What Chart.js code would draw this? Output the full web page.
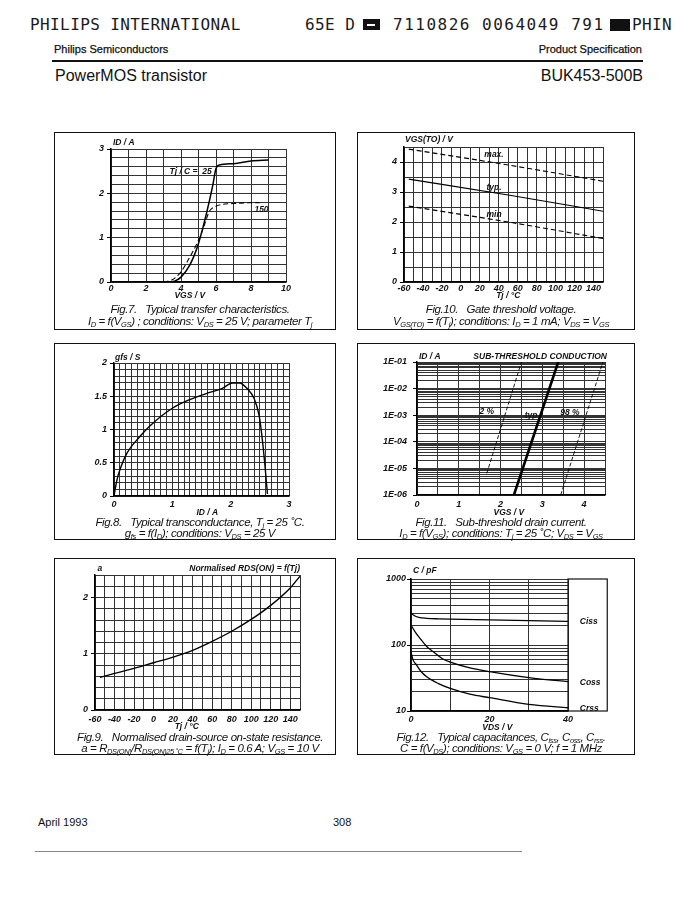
<!DOCTYPE html>
<html>
<head>
<meta charset="utf-8">
<script src="https://cdn.jsdelivr.net/npm/chart.js@4.4.1/dist/chart.umd.min.js"></script>
<style>
body { margin: 0; width: 682px; height: 906px; background: #fff; position: relative; overflow: hidden;
       font-family: "Liberation Sans", Arial, sans-serif; color: #111; }
.t { position: absolute; white-space: nowrap; line-height: 1; }
.mono { font-family: "DejaVu Sans Mono", monospace; font-size: 16px; letter-spacing: 0.4px; color: #1a1a1a; }
.blk { position: absolute; background: #111; }
.panel { position: absolute; }
.panel .frame { position: absolute; left: 0; top: 0; right: 0; bottom: 0; border: 1.5px solid #111; }
.panel canvas { position: absolute; left: 0; top: 0; }
.cap { position: absolute; left: 5px; width: 100%; text-align: center; font-style: italic; font-size: 11.5px;
       line-height: 1; letter-spacing: -0.4px; white-space: nowrap; color: #111; }
.cap sub { font-size: 7.5px; vertical-align: -2px; line-height: 0; }
.bold-ish { -webkit-text-stroke: 0.25px #111; }
</style>
</head>
<body>

<div class="t mono" style="left:30px;top:17px">PHILIPS INTERNATIONAL</div>
<div class="t mono" style="left:305px;top:17px">65E D</div>
<div class="blk" style="left:363px;top:19px;width:17px;height:11px"></div>
<div class="blk" style="left:367px;top:24px;width:8px;height:1.5px;background:#fff"></div>
<div class="t mono" style="left:393px;top:17px;letter-spacing:1.5px">7110826 0064049 791</div>
<div class="blk" style="left:610px;top:19px;width:20px;height:12px"></div>
<div class="t mono" style="left:632px;top:17px">PHIN</div>

<div class="t bold-ish" style="left:54px;top:44px;font-size:11px">Philips Semiconductors</div>
<div class="t bold-ish" style="right:40px;top:44px;font-size:11px">Product Specification</div>
<div class="blk" style="left:52px;top:60px;width:591px;height:1.5px"></div>
<div class="t" style="left:55px;top:68px;font-size:16px">PowerMOS transistor</div>
<div class="t" style="right:39px;top:68px;font-size:16px">BUK453-500B</div>

<div class="panel" id="p7" style="left:54px;top:132px;width:282px;height:198px">
  <div class="frame"></div><canvas id="fig7"></canvas>
  <div class="cap" style="top:172px">Fig.7.&nbsp;&nbsp;&nbsp;Typical transfer characteristics.</div>
  <div class="cap" style="top:184px">I<sub>D</sub> = f(V<sub>GS</sub>) ; conditions: V<sub>DS</sub> = 25 V; parameter T<sub>j</sub></div>
</div>
<div class="panel" id="p10" style="left:357px;top:132px;width:278px;height:198px">
  <div class="frame"></div><canvas id="fig10"></canvas>
  <div class="cap" style="top:172px">Fig.10.&nbsp;&nbsp;&nbsp;Gate threshold voltage.</div>
  <div class="cap" style="top:184px">V<sub>GS(TO)</sub> = f(T<sub>j</sub>); conditions: I<sub>D</sub> = 1 mA; V<sub>DS</sub> = V<sub>GS</sub></div>
</div>
<div class="panel" id="p8" style="left:54px;top:343px;width:282px;height:197px">
  <div class="frame"></div><canvas id="fig8"></canvas>
  <div class="cap" style="top:174px">Fig.8.&nbsp;&nbsp;&nbsp;Typical transconductance, T<sub>j</sub> = 25 ˚C.</div>
  <div class="cap" style="top:185px">g<sub>fs</sub> = f(I<sub>D</sub>); conditions: V<sub>DS</sub> = 25 V</div>
</div>
<div class="panel" id="p11" style="left:357px;top:343px;width:278px;height:197px">
  <div class="frame"></div><canvas id="fig11"></canvas>
  <div class="cap" style="top:174px">Fig.11.&nbsp;&nbsp;&nbsp;Sub-threshold drain current.</div>
  <div class="cap" style="top:185px">I<sub>D</sub> = f(V<sub>GS</sub>); conditions: T<sub>j</sub> = 25 ˚C; V<sub>DS</sub> = V<sub>GS</sub></div>
</div>
<div class="panel" id="p9" style="left:54px;top:558px;width:282px;height:197px">
  <div class="frame"></div><canvas id="fig9"></canvas>
  <div class="cap" style="top:174px">Fig.9.&nbsp;&nbsp;&nbsp;Normalised drain-source on-state resistance.</div>
  <div class="cap" style="top:185px">a = R<sub>DS(ON)</sub>/R<sub>DS(ON)25 ˚C</sub> = f(T<sub>j</sub>); I<sub>D</sub> = 0.6 A; V<sub>GS</sub> = 10 V</div>
</div>
<div class="panel" id="p12" style="left:357px;top:558px;width:278px;height:197px">
  <div class="frame"></div><canvas id="fig12"></canvas>
  <div class="cap" style="top:174px">Fig.12.&nbsp;&nbsp;&nbsp;Typical capacitances, C<sub>iss</sub>, C<sub>oss</sub>, C<sub>rss</sub>.</div>
  <div class="cap" style="top:185px">C = f(V<sub>DS</sub>); conditions: V<sub>GS</sub> = 0 V; f = 1 MHz</div>
</div>

<div class="t" style="left:38px;top:817px;font-size:11px">April 1993</div>
<div class="t" style="left:333px;top:817px;font-size:11px">308</div>
<div class="blk" style="left:35px;top:851px;width:487px;height:1px;background:#888"></div>

<script>
// Fig.7 - transfer characteristics, ID (A) vs VGS (V)
const fig7Vgs25 = [3.4, 3.7, 4.0, 4.5, 5.0, 5.5, 5.8, 6.0, 6.2, 7.0, 8.0, 9.0];
const fig7Id25 = [0, 0.03, 0.11, 0.38, 0.87, 1.62, 2.15, 2.56, 2.64, 2.67, 2.73, 2.75];
const fig7Vgs150 = [3.0, 3.5, 4.0, 4.5, 5.0, 5.3, 5.6, 5.8, 6.0, 6.5, 7.0, 8.0, 8.5];
const fig7Id150 = [0, 0.05, 0.23, 0.56, 0.94, 1.24, 1.58, 1.67, 1.71, 1.76, 1.77, 1.79, 1.79];
const fig7XLabels = [0, 2, 4, 6, 8, 10];
const fig7YLabels = [0, 1, 2, 3];

// Fig.10 - gate threshold voltage vs Tj
const fig10Tj = [-55, 50, 150];
const fig10Max = [4.43, 3.90, 3.36];
const fig10Typ = [3.43, 2.90, 2.36];
const fig10Min = [2.53, 2.00, 1.45];
const fig10XLabels = [-60, -40, -20, 0, 20, 40, 60, 80, 100, 120, 140];
const fig10YLabels = [0, 1, 2, 3, 4];

// Fig.8 - transconductance vs ID
const fig8Id = [0, 0.05, 0.1, 0.22, 0.44, 0.61, 1.0, 1.3, 1.58, 1.86, 2.03, 2.15, 2.29, 2.4, 2.49, 2.55, 2.6, 2.63];
const fig8Gfs = [0, 0.24, 0.39, 0.64, 0.89, 1.05, 1.32, 1.45, 1.54, 1.62, 1.70, 1.70, 1.61, 1.47, 1.20, 0.79, 0.34, 0.03];
const fig8XLabels = [0, 1, 2, 3];
const fig8YLabels = [0, 0.5, 1, 1.5, 2];

// Fig.11 - sub-threshold drain current (log)
const fig11Vgs2 = [1.67, 2.5];
const fig11Id2 = [6.5e-6, 1e-1];
const fig11VgsTyp = [2.32, 3.38];
const fig11IdTyp = [1e-6, 1e-1];
const fig11Vgs98 = [3.44, 4.45];
const fig11Id98 = [1e-6, 1e-1];
const fig11XLabels = [0, 1, 2, 3, 4];
const fig11YLabels = [1e-6, 1e-5, 1e-4, 1e-3, 1e-2, 1e-1];
const fig11YTexts = ['1E-06', '1E-05', '1E-04', '1E-03', '1E-02', '1E-01'];

// Fig.9 - normalised RDS(ON) vs Tj
const fig9Tj = [-55, -40, -20, 0, 20, 40, 60, 80, 100, 120, 140, 150];
const fig9A = [0.58, 0.65, 0.74, 0.84, 0.94, 1.06, 1.22, 1.40, 1.61, 1.86, 2.17, 2.38];
const fig9XLabels = [-60, -40, -20, 0, 20, 40, 60, 80, 100, 120, 140];
const fig9YLabels = [0, 1, 2];

// Fig.12 - capacitances vs VDS (log)
const fig12VdsCiss = [0, 1, 2, 4, 7, 10, 20, 30, 40, 41.7];
const fig12Ciss = [302, 275, 262, 254, 249, 246, 240, 234, 228, 226];
const fig12VdsCoss = [0, 1, 2.3, 4, 5.7, 8, 10, 15, 20, 30, 40, 41.7];
const fig12Coss = [201, 160, 126, 95, 79, 62, 55, 45, 39.4, 32, 27.8, 27.2];
const fig12VdsCrss = [0, 0.5, 1.4, 2.5, 4, 7, 10, 15, 20, 30, 40, 41.7];
const fig12Crss = [79, 60, 50, 40, 33, 26, 22, 18, 15.9, 12.6, 11.2, 11.0];
const fig12XLabels = [0, 20, 40];
const fig12YLabels = [10, 100, 1000];

const Y_W = 34, X_H = 14;
const tickFont = { family: 'Liberation Sans', size: 9, style: 'italic', weight: 'bold' };
const noteFont = 'italic bold 8.5px "Liberation Sans"';

function same(a, b) {
    return Math.abs(a - b) <= 1e-6 * Math.max(Math.abs(a), Math.abs(b)) || Math.abs(a - b) < 1e-12;
}

function labelsAt(values, texts) {
    return function (v) {
        const i = values.findIndex(l => same(l, v));
        if (i < 0) return '';
        return texts ? texts[i] : String(values[i]);
    };
}

function logTicks(min, max) {
    const out = [];
    for (let e = Math.floor(Math.log10(min)); e <= Math.round(Math.log10(max)); e++) {
        for (let m = 1; m <= 9; m++) {
            const v = m * Math.pow(10, e);
            if (v >= min * 0.999 && v <= max * 1.001) out.push({ value: v });
        }
    }
    return out;
}

function axis(isY, o) {
    const a = {
        type: o.type || 'linear',
        min: o.min, max: o.max,
        afterFit: s => { if (isY) s.width = Y_W; else s.height = X_H; },
        border: { display: true, color: '#000', width: 1.5 },
        grid: {
            color: '#333', lineWidth: 1,
            drawTicks: isY, tickLength: 4,
            tickColor: c => (c.tick && c.tick.label !== '') ? '#000' : 'rgba(0,0,0,0)'
        },
        ticks: {
            autoSkip: false, maxRotation: 0, maxTicksLimit: 200,
            font: tickFont, color: '#111',
            padding: o.pad,
            callback: labelsAt(o.labels, o.texts)
        }
    };
    if (o.step) a.ticks.stepSize = o.step;
    if (a.type === 'logarithmic') a.afterBuildTicks = s => { s.ticks = logTicks(o.min, o.max); };
    return a;
}

function series(xs, ys, style) {
    return Object.assign({
        data: xs.map((x, i) => ({ x: x, y: ys[i] })),
        borderColor: '#000', borderWidth: 1.3, pointRadius: 0,
        fill: false, cubicInterpolationMode: 'monotone'
    }, style || {});
}

function notesPlugin(notes, extra) {
    return {
        id: 'notes',
        afterDraw(chart) {
            const ctx = chart.ctx, xs = chart.scales.x, ys = chart.scales.y;
            ctx.save();
            ctx.fillStyle = '#111';
            ctx.textBaseline = 'middle';
            notes.forEach(n => {
                ctx.font = n.font || noteFont;
                ctx.textAlign = n.align || 'center';
                ctx.fillText(n.text, xs.getPixelForValue(n.x) + (n.dx || 0), ys.getPixelForValue(n.y) + (n.dy || 0));
            });
            ctx.restore();
            if (extra) extra(chart);
        }
    };
}

// panel = outer frame in page px, plot = wanted plot rectangle in page px
function drawFig(id, panel, plot, datasets, x, y, notes, extra) {
    const canvas = document.getElementById(id);
    canvas.width = panel.w;
    canvas.height = panel.h;
    const pad = {
        left: plot.l - panel.x - Y_W,
        right: panel.x + panel.w - plot.r,
        top: plot.t - panel.y,
        bottom: panel.y + panel.h - plot.b - X_H
    };
    new Chart(canvas, {
        type: 'line',
        data: { datasets: datasets },
        options: {
            responsive: false, animation: false,
            layout: { padding: pad },
            plugins: { legend: { display: false }, tooltip: { enabled: false } },
            scales: { x: axis(false, x), y: axis(true, y) }
        },
        plugins: [notesPlugin(notes, extra)]
    });
}

const dash = { borderDash: [5, 3], borderWidth: 1.1 };

drawFig('fig7', { x: 54, y: 132, w: 282, h: 198 }, { l: 111, r: 286, t: 149, b: 282 },
    [series(fig7Vgs25, fig7Id25, { borderWidth: 1.5 }), series(fig7Vgs150, fig7Id150, dash)],
    { min: 0, max: 10, step: 1, labels: fig7XLabels, pad: 1 },
    { min: 0, max: 3, step: 0.2, labels: fig7YLabels, pad: 3 },
    [
        { text: 'ID / A', x: 0, y: 3, dx: 2, dy: -6, align: 'left' },
        { text: 'VGS / V', x: 4.5, y: 0, dy: 14 },
        { text: 'Tj / C =  25', x: 4.55, y: 2.5 },
        { text: '150', x: 8.6, y: 1.64 }
    ]);

drawFig('fig10', { x: 357, y: 132, w: 278, h: 198 }, { l: 404, r: 603, t: 147, b: 282 },
    [series(fig10Tj, fig10Max, dash), series(fig10Tj, fig10Typ, { borderWidth: 1.1 }), series(fig10Tj, fig10Min, dash)],
    { min: -60, max: 150, step: 10, labels: fig10XLabels, pad: 1 },
    { min: 0, max: 4.5, step: 0.5, labels: fig10YLabels, pad: 3 },
    [
        { text: 'VGS(TO) / V', x: -60, y: 4.5, dx: 1, dy: -7, align: 'left' },
        { text: 'Tj / °C', x: 50, y: 0, dy: 14 },
        { text: 'max.', x: 35, y: 4.23 },
        { text: 'typ.', x: 35, y: 3.15 },
        { text: 'min', x: 35, y: 2.23 }
    ]);

drawFig('fig8', { x: 54, y: 343, w: 282, h: 197 }, { l: 114, r: 289, t: 363, b: 496 },
    [series(fig8Id, fig8Gfs, { borderWidth: 1.4 })],
    { min: 0, max: 3, step: 0.1, labels: fig8XLabels, pad: 3 },
    { min: 0, max: 2, step: 0.1, labels: fig8YLabels, pad: 3 },
    [
        { text: 'gfs / S', x: 0, y: 2, dx: 1, dy: -5, align: 'left' },
        { text: 'ID / A', x: 1.6, y: 0, dy: 17 }
    ]);

drawFig('fig11', { x: 357, y: 343, w: 278, h: 197 }, { l: 417, r: 605, t: 362, b: 495 },
    [
        series(fig11Vgs2, fig11Id2, { borderWidth: 0.9, borderDash: [4, 2] }),
        series(fig11VgsTyp, fig11IdTyp, { borderWidth: 2.6 }),
        series(fig11Vgs98, fig11Id98, { borderWidth: 0.9, borderDash: [4, 2] })
    ],
    { min: 0, max: 4.5, step: 0.5, labels: fig11XLabels, pad: 4 },
    { type: 'logarithmic', min: 1e-6, max: 1e-1, labels: fig11YLabels, texts: fig11YTexts, pad: 6 },
    [
        { text: 'ID / A', x: 0, y: 1e-1, dx: 2, dy: -5, align: 'left' },
        { text: 'SUB-THRESHOLD CONDUCTION', x: 4.5, y: 1e-1, dx: 2, dy: -5, align: 'right' },
        { text: 'VGS / V', x: 2.2, y: 1e-6, dy: 18 },
        { text: '2 %', x: 1.67, y: 1.4e-3 },
        { text: 'typ', x: 2.73, y: 9.3e-4 },
        { text: '98 %', x: 3.66, y: 1.2e-3 }
    ]);

drawFig('fig9', { x: 54, y: 558, w: 282, h: 197 }, { l: 95, r: 300, t: 575, b: 710 },
    [series(fig9Tj, fig9A, { borderWidth: 1.4 })],
    { min: -60, max: 150, step: 10, labels: fig9XLabels, pad: 4 },
    { min: 0, max: 2.4, step: 0.2, labels: fig9YLabels, pad: 3 },
    [
        { text: 'a', x: -55, y: 2.4, dy: -6 },
        { text: 'Normalised RDS(ON) = f(Tj)', x: 150, y: 2.4, dy: -6, align: 'right' },
        { text: 'Tj / °C', x: 34, y: 0, dy: 17 }
    ]);

drawFig('fig12', { x: 357, y: 558, w: 278, h: 197 }, { l: 411, r: 568, t: 579, b: 711 },
    [
        series(fig12VdsCiss, fig12Ciss, { clip: false }),
        series(fig12VdsCoss, fig12Coss, { clip: false }),
        series(fig12VdsCrss, fig12Crss, { clip: false })
    ],
    { min: 0, max: 40, step: 10, labels: fig12XLabels, pad: 3 },
    { type: 'logarithmic', min: 10, max: 1000, labels: fig12YLabels, pad: 1 },
    [
        { text: 'C / pF', x: 0, y: 1000, dx: 2, dy: -8, align: 'left' },
        { text: 'VDS / V', x: 22, y: 10, dy: 17 },
        { text: 'Ciss', x: 43, y: 226, align: 'left' },
        { text: 'Coss', x: 43, y: 27, align: 'left' },
        { text: 'Crss', x: 43, y: 11, align: 'left' }
    ],
    chart => {
        // empty side box to the right of the grid, as on the sheet
        const a = chart.chartArea, ctx = chart.ctx;
        const right = chart.scales.x.getPixelForValue(50);
        ctx.save();
        ctx.strokeStyle = '#111';
        ctx.lineWidth = 1.2;
        ctx.strokeRect(a.right, a.top, right - a.right, a.bottom - a.top);
        ctx.restore();
    });
</script>
</body>
</html>
